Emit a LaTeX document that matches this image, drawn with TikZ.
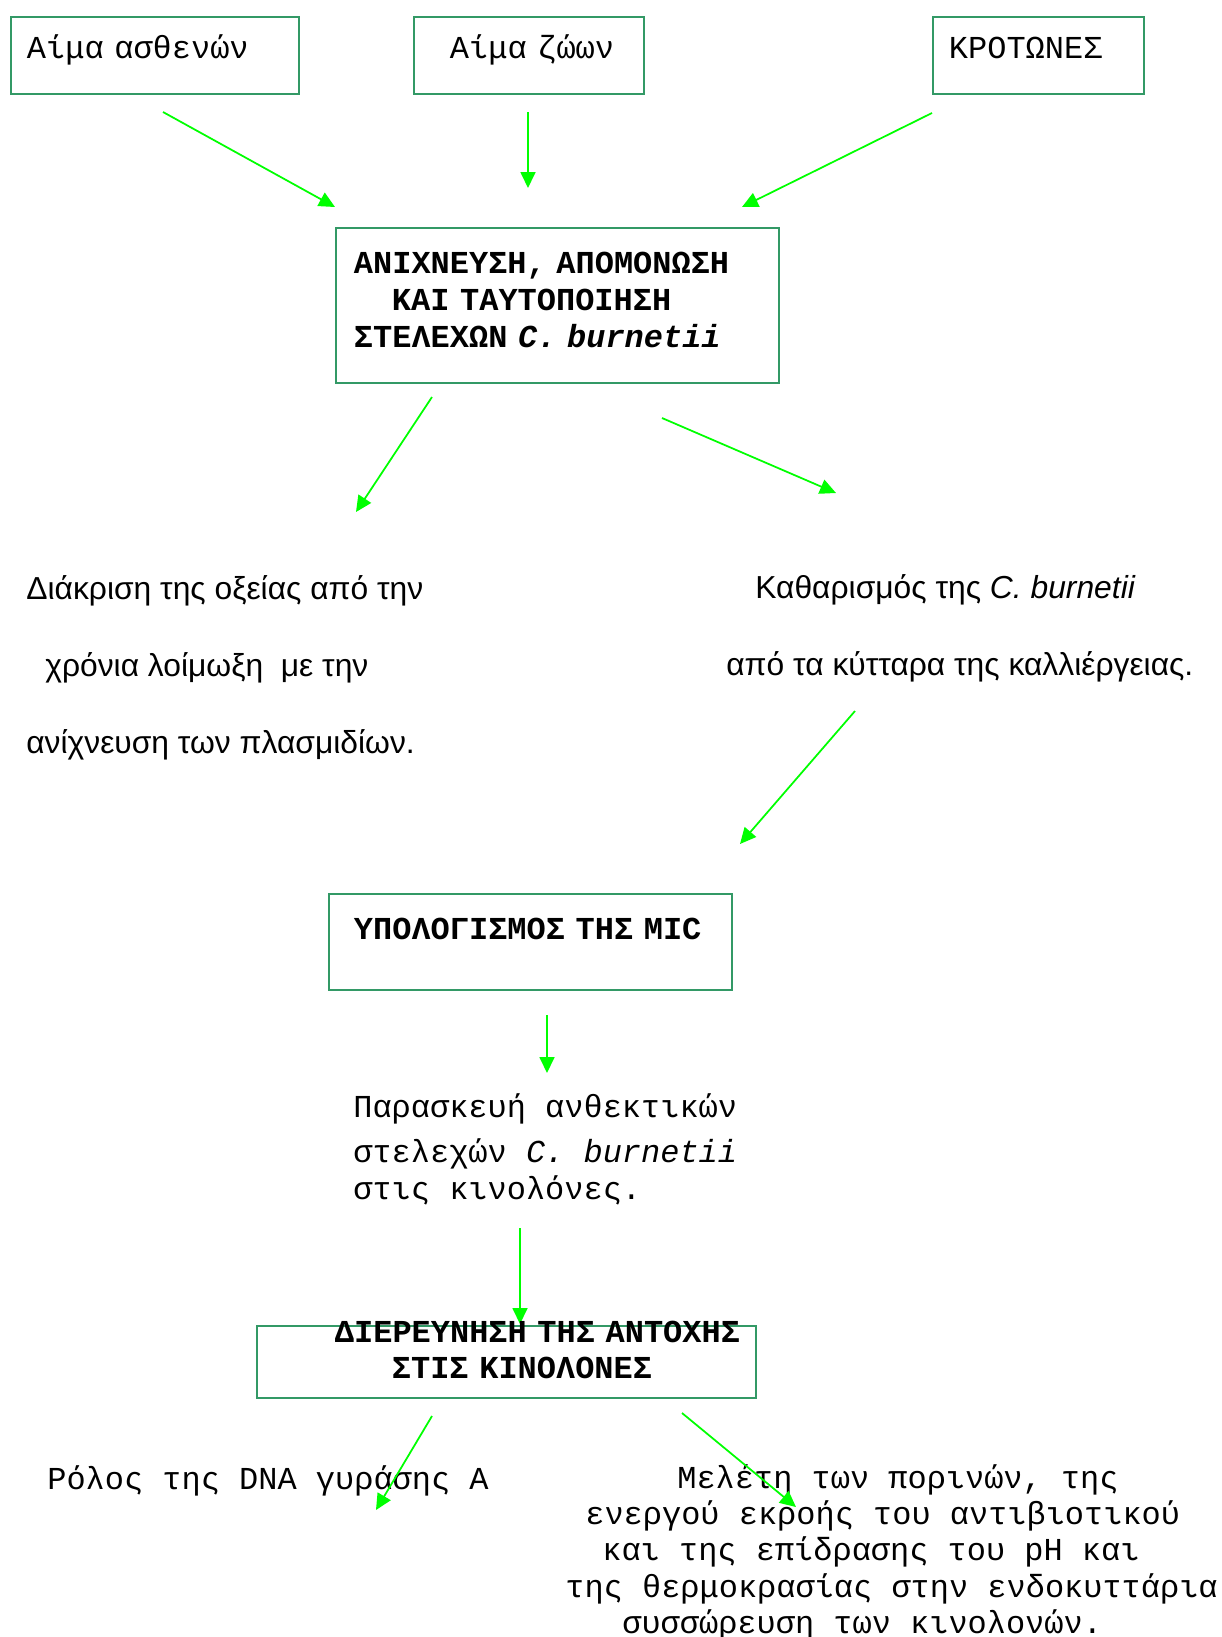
\documentclass[tikz,border=0pt]{standalone}
\usepackage{fontspec}
\usepackage{xcolor}
\usepackage{tikz}
\usetikzlibrary{arrows.meta}

\newfontfamily\courfont{Liberation Mono}
\newfontfamily\arialfont{Liberation Sans}
\definecolor{boxgreen}{HTML}{339966}
\definecolor{arrowgreen}{HTML}{00FF00}

\tikzset{
  box/.style={draw=boxgreen, line width=1.1pt, anchor=north west, inner xsep=0pt, inner ysep=0pt,
    align=left, text height=0.3cm, font=\courfont\fontsize{18.2pt}{21pt}\selectfont},
  boldbox/.style={box, font=\courfont\bfseries\fontsize{18.2pt}{21pt}\selectfont},
  mono/.style={anchor=base west, inner sep=0pt, align=left, font=\courfont\fontsize{18.2pt}{21pt}\selectfont},
  sans/.style={anchor=base west, inner sep=0pt, align=left, font=\arialfont\fontsize{18.1pt}{43.8pt}\selectfont},
  flow/.style={draw=arrowgreen, line width=1pt, -{Triangle[length=0.32cm,width=0.3cm]}}
}

\begin{document}
\begin{tikzpicture}[x=0.02cm, y=-0.02cm]
    \useasboundingbox (0,0) rectangle (1222,1637);

    \node[box, minimum width=5.76cm, minimum height=1.54cm, text width=5.76cm, text depth=0.16cm] (aimaAsth) at (10,16)
        {\hspace*{0.32cm}Αίμα ασθενών};
    \node[box, minimum width=4.6cm, minimum height=1.54cm, text width=4.6cm, text depth=0.16cm] (aimaZoon) at (413,16)
        {\hspace*{0.72cm}Αίμα ζώων};
    \node[box, minimum width=4.22cm, minimum height=1.54cm, text width=4.22cm, text depth=0.16cm] (krotones) at (932,16)
        {\hspace*{0.32cm}ΚΡΟΤΩΝΕΣ};

    \node[boldbox, minimum width=8.86cm, minimum height=3.1cm, text width=8.86cm, text depth=1.56cm] (anixnevsi) at (335,227)
        {\hspace*{0.36cm}ΑΝΙΧΝΕΥΣΗ, ΑΠΟΜΟΝΩΣΗ\\
         \hspace*{1.12cm}ΚΑΙ ΤΑΥΤΟΠΟΙΗΣΗ\\
         \hspace*{0.36cm}ΣΤΕΛΕΧΩΝ \textit{C. burnetii}};

    \coordinate (s1) at (163,112);
    \coordinate (e1) at (335,207);
    \coordinate (s2) at (528,112);
    \coordinate (e2) at (528,188);
    \coordinate (s3) at (932,113);
    \coordinate (e3) at (742,207);

    \draw[flow] (s1) -- (e1);
    \draw[flow] (s2) -- (e2);
    \draw[flow] (s3) -- (e3);

    \node[sans] (diakrisi) at (26,753)
        {Διάκριση της οξείας από την\\
         \hspace*{0.38cm}χρόνια λοίμωξη \ με την\\
         ανίχνευση των πλασμιδίων.};
    \node[sans] (katharismos) at (726,675)
        {\hspace*{0.58cm}Καθαρισμός της \textit{C. burnetii}\\
         από τα κύτταρα της καλλιέργειας.};

    \coordinate (s4) at (432,397);
    \coordinate (e4) at (356,512);
    \coordinate (s5) at (662,418);
    \coordinate (e5) at (836,493);
    \coordinate (s6) at (855,711);
    \coordinate (e6) at (740,844);

    \draw[flow] (s4) -- (e4);
    \draw[flow] (s5) -- (e5);
    \draw[flow] (s6) -- (e6);

    \node[boldbox, minimum width=8.06cm, minimum height=1.92cm, text width=8.06cm, text depth=0.38cm] (mic) at (328,893)
        {\hspace*{0.5cm}ΥΠΟΛΟΓΙΣΜΟΣ ΤΗΣ MIC};

    \node[mono] (paraskevi) at (353,1199)
        {Παρασκευή ανθεκτικών\\[4.6pt]
         στελεχών \textit{C. burnetii}\\
         στις κινολόνες.};

    \coordinate (s7) at (547,1015);
    \coordinate (e7) at (547,1073);
    \coordinate (s8) at (520,1228);
    \coordinate (e8) at (520,1324);

    \draw[flow] (s7) -- (e7);
    \draw[flow] (s8) -- (e8);

    \node[boldbox, minimum width=9.98cm, minimum height=1.44cm, text width=9.98cm, text depth=1.06cm,
          font=\courfont\bfseries\fontsize{18.2pt}{20.5pt}\selectfont] (diereynisi) at (256,1325)
        {\hspace*{1.56cm}\mbox{ΔΙΕΡΕΥΝΗΣΗ ΤΗΣ ΑΝΤΟΧΗΣ}\\
         \hspace*{2.7cm}ΣΤΙΣ ΚΙΝΟΛΟΝΕΣ};

    \node[mono] (rolos) at (47,1489) {Ρόλος της DNA γυράσης Α};
    \node[mono, font=\courfont\fontsize{18.2pt}{20.5pt}\selectfont] (meleti) at (565,1633)
        {\hspace*{2.24cm}Μελέτη των πορινών, της\\
         \hspace*{0.4cm}ενεργού εκροής του αντιβιοτικού\\
         \hspace*{0.74cm}και της επίδρασης του pH και\\
         της θερμοκρασίας στην ενδοκυττάρια\\
         \hspace*{1.14cm}συσσώρευση των κινολονών.};

    \coordinate (s9) at (432,1416);
    \coordinate (e9) at (376,1510);
    \coordinate (s10) at (682,1413);
    \coordinate (e10) at (796,1507);

    \draw[flow] (s9) -- (e9);
    \draw[flow] (s10) -- (e10);
\end{tikzpicture}
\end{document}
